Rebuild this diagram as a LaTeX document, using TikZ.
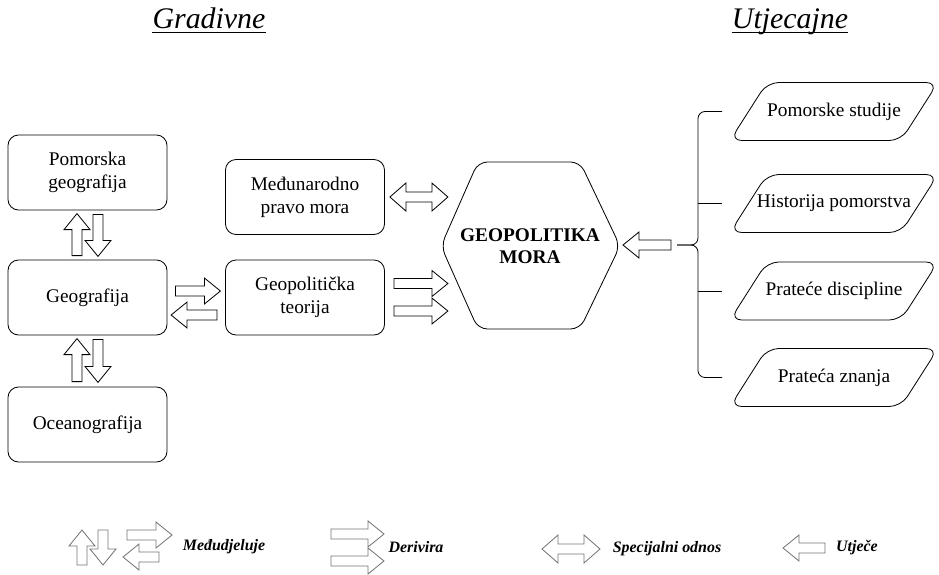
\documentclass[tikz,border=0pt]{standalone}
\usepackage{fontspec}
\setmainfont{Liberation Serif}
\usetikzlibrary{calc}

\tikzset{
  kutija/.style={draw, rounded corners=9pt, minimum width=4.77cm, minimum height=2.25cm, align=center, font=\fontsize{16.5}{19.5}\selectfont},
  paraltekst/.style={font=\fontsize{16.5}{19.5}\selectfont},
  naslov/.style={inner sep=0pt, anchor=base, font=\itshape\fontsize{25.5}{30}\selectfont},
  legtekst/.style={font=\fontsize{13.6}{16}\selectfont\bfseries\itshape},
  pics/strelica/.style={code={
    \draw (0,-5) -- (#1-16,-5) -- (#1-16,-13) -- (#1,0) -- (#1-16,13) -- (#1-16,5) -- (0,5) -- cycle;}},
  pics/dvostruka/.style={code={
    \draw (0,0) -- (16,-14) -- (16,-5) -- (#1-16,-5) -- (#1-16,-14) -- (#1,0) -- (#1-16,14) -- (#1-16,5) -- (16,5) -- (16,14) -- cycle;}},
}

\begin{document}
\begin{tikzpicture}[x=0.03cm, y=-0.03cm, line width=0.7pt]
  \useasboundingbox (0,0) rectangle (939,574);
  % naslovi
  \node[naslov] (gradivne) at (209,28) {Gradivne};
  \node[naslov] (utjecajne) at (790,28) {Utjecajne};
  \draw[line width=0.8pt] ($(gradivne.base west)+(0,4)$) -- ($(gradivne.base east)+(0,4)$);
  \draw[line width=0.8pt] ($(utjecajne.base west)+(0,4)$) -- ($(utjecajne.base east)+(0,4)$);
  % gradivne
  \node[kutija] (pomgeo) at (87.5,172.5) {Pomorska\\geografija};
  \node[kutija] (geog) at (87.5,297.5) {Geografija};
  \node[kutija] (ocean) at (87.5,424.5) {Oceanografija};
  \node[kutija] (medpravo) at (305,197) {Međunarodno\\pravo mora};
  \node[kutija] (teorija) at (305,297.5) {Geopolitička\\teorija};
  % sredina
  \node[align=center, font=\fontsize{16.5}{18.7}\selectfont\bfseries] (geomora) at (530,246) {GEOPOLITIKA\\MORA};
  \draw[rounded corners=8pt] ($(geomora)+(-89,0)$) -- ($(geomora)+(-52,-84)$) -- ($(geomora)+(50,-84)$)
     -- ($(geomora)+(90,0)$) -- ($(geomora)+(50,83)$) -- ($(geomora)+(-52,83)$) -- cycle;
  % utjecajne
  \node[paraltekst] (p1) at (834,111.5) {Pomorske studije};
  \node[paraltekst] (p2) at (834,203.5) {Historija pomorstva};
  \node[paraltekst] (p3) at (834,291) {Prateće discipline};
  \node[paraltekst] (p4) at (834,377.5) {Prateća znanja};
  \foreach \p in {p1,p2,p3,p4}
    \draw[rounded corners=10pt] ($(\p)+(-104,29)$) -- ($(\p)+(-67,-29)$) -- ($(\p)+(104,-29)$)
       -- ($(\p)+(67,29)$) -- cycle;
  % zagrada
  \coordinate (vrh) at (677,245);
  \coordinate (kic) at (698,245);
  \coordinate (rub) at (722,0);
  \draw[rounded corners=6pt] (rub |- p1) -| (kic) -- (vrh);
  \draw[rounded corners=6pt] (rub |- p4) -| (kic) -- (vrh);
  \draw (rub |- p2) -- (kic |- p2);
  \draw (rub |- p3) -- (kic |- p3);
  % strelice
  \pic[rotate=90] at ($(geog.north)+(-10.5,-4)$) {strelica=42};
  \pic[rotate=-90] at ($(pomgeo.south)+(10.5,4)$) {strelica=42};
  \pic[rotate=90] at ($(ocean.north)+(-10.5,-5)$) {strelica=43};
  \pic[rotate=-90] at ($(geog.south)+(10.5,4)$) {strelica=43};
  \pic at ($(geog.east)+(8,-6.5)$) {strelica=45};
  \pic[rotate=180] at ($(teorija.west)+(-8,17.5)$) {strelica=46};
  \pic at ($(medpravo.east)+(5,0)$) {dvostruka=58};
  \pic at ($(teorija.east)+(9,-14)$) {strelica=54};
  \pic at ($(teorija.east)+(9,13.5)$) {strelica=54};
  \pic[rotate=180] at ($(vrh)+(-6,0)$) {strelica=48};
  % legenda
  \pic[black!55, rotate=90] at (82,565) {strelica=35};
  \pic[black!55, rotate=-90] at (103,530) {strelica=35};
  \pic[black!55] at (127,535) {strelica=45};
  \pic[black!55, rotate=180] at (159,557) {strelica=36};
  \node[legtekst] (leg1) at (224,547) {Međudjeluje};
  \pic[black!55] at (331,534) {strelica=53};
  \pic[black!55] at (331,561) {strelica=53};
  \node[legtekst] (leg2) at (416,547) {Derivira};
  \pic[black!55] at (542,549) {dvostruka=58};
  \node[legtekst] (leg3) at (667,549) {Specijalni odnos};
  \pic[black!55, rotate=180] at (825,548) {strelica=42};
  \node[legtekst] (leg4) at (857,548) {Utječe};
\end{tikzpicture}
\end{document}
